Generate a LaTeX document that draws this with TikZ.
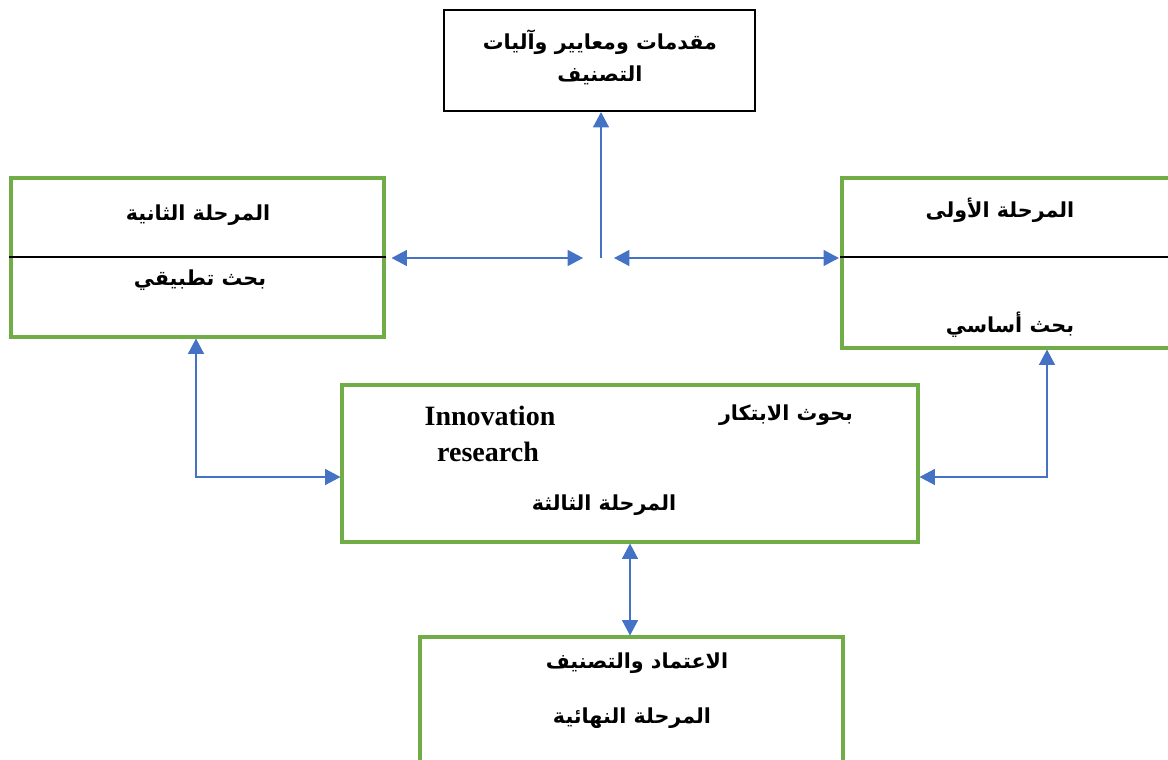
\documentclass[tikz,border=0pt]{standalone}
\usepackage{fontspec}
\setmainfont{Liberation Serif}
\newfontfamily\arabicfont[Script=Arabic]{DejaVu Sans}
\TeXXeTstate=1
\usetikzlibrary{arrows.meta,fit}
\definecolor{boxgreen}{HTML}{70AD47}
\definecolor{linkblue}{HTML}{4472C4}
\newcommand{\artext}[1]{{\arabicfont\bfseries\beginR #1\endR}}

\tikzset{
  gbox/.style={draw=boxgreen, line width=2.3pt, inner sep=0pt},
  kbox/.style={draw=black, line width=1.6pt, inner sep=0pt},
  divider/.style={draw=black, line width=0.9pt},
  label/.style={inner sep=0pt, font=\fontsize{15.5}{18}\selectfont},
  latin/.style={inner sep=0pt, font=\fontsize{21}{24}\selectfont\bfseries, align=center},
  link/.style={draw=linkblue, line width=0.9pt},
  tip/.style={},
  twoway/.style={link, {Triangle[length=11.5pt,width=12pt]}-{Triangle[length=11.5pt,width=12pt]}},
  oneway/.style={link, -{Triangle[length=11.5pt,width=12pt]}}
}

\begin{document}
\begin{tikzpicture}[x=0.75pt,y=-0.75pt]
\useasboundingbox (0,0) rectangle (1168,760);
\clip (0,0) rectangle (1168,760);

% boxes
\node[kbox, fit={(444,10) (755,111)}] (top) {};
\node[gbox, fit={(11,178) (384,337)}] (left) {};
\node[gbox, fit={(842,178) (1185,348)}] (right) {};
\node[gbox, fit={(342,385) (918,542)}] (center) {};
\node[gbox, fit={(420,637) (843,780)}] (bottom) {};

% dividers in the two side boxes
\draw[divider] (left.west |- 0,257) -- (left.east |- 0,257);
\draw[divider] (right.west |- 0,257) -- (right.east |- 0,257);

% texts
\node[label] (topA) at (600,42) {\artext{مقدمات ومعايير وآليات}};
\node[label] (topB) at (600,75) {\artext{التصنيف}};
\node[label] (leftA) at (198,215) {\artext{المرحلة الثانية}};
\node[label] (leftB) at (200,280) {\artext{بحث تطبيقي}};
\node[label] (rightA) at (1000,210) {\artext{المرحلة الأولى}};
\node[label] (rightB) at (1010,325) {\artext{بحث أساسي}};
\node[latin] (innoA) at (490,416) {Innovation};
\node[latin] (innoB) at (488,452) {research};
\node[label] (centerA) at (786,415) {\artext{بحوث الابتكار}};
\node[label] (centerB) at (604,505) {\artext{المرحلة الثالثة}};
\node[label] (bottomA) at (637,663) {\artext{الاعتماد والتصنيف}};
\node[label] (bottomB) at (632,718) {\artext{المرحلة النهائية}};

% connectors
\coordinate (hub) at (601,258);
\coordinate (hubL) at (583,258);
\coordinate (hubR) at (614,258);
\draw[oneway] (hub) -- (top.south -| hub);
\draw[twoway, shorten <=4.5pt] (left.east |- hub) -- (hubL);
\draw[twoway, shorten >=1.2pt] (hubR) -- (right.west |- hub);
\draw[twoway] (left.south -| 196,0) |- (center.west |- 0,477);
\draw[twoway] (right.south -| 1047,0) |- (center.east |- 0,477);
\draw[twoway] (center.south -| 630,0) -- (bottom.north -| 630,0);
\end{tikzpicture}
\end{document}
